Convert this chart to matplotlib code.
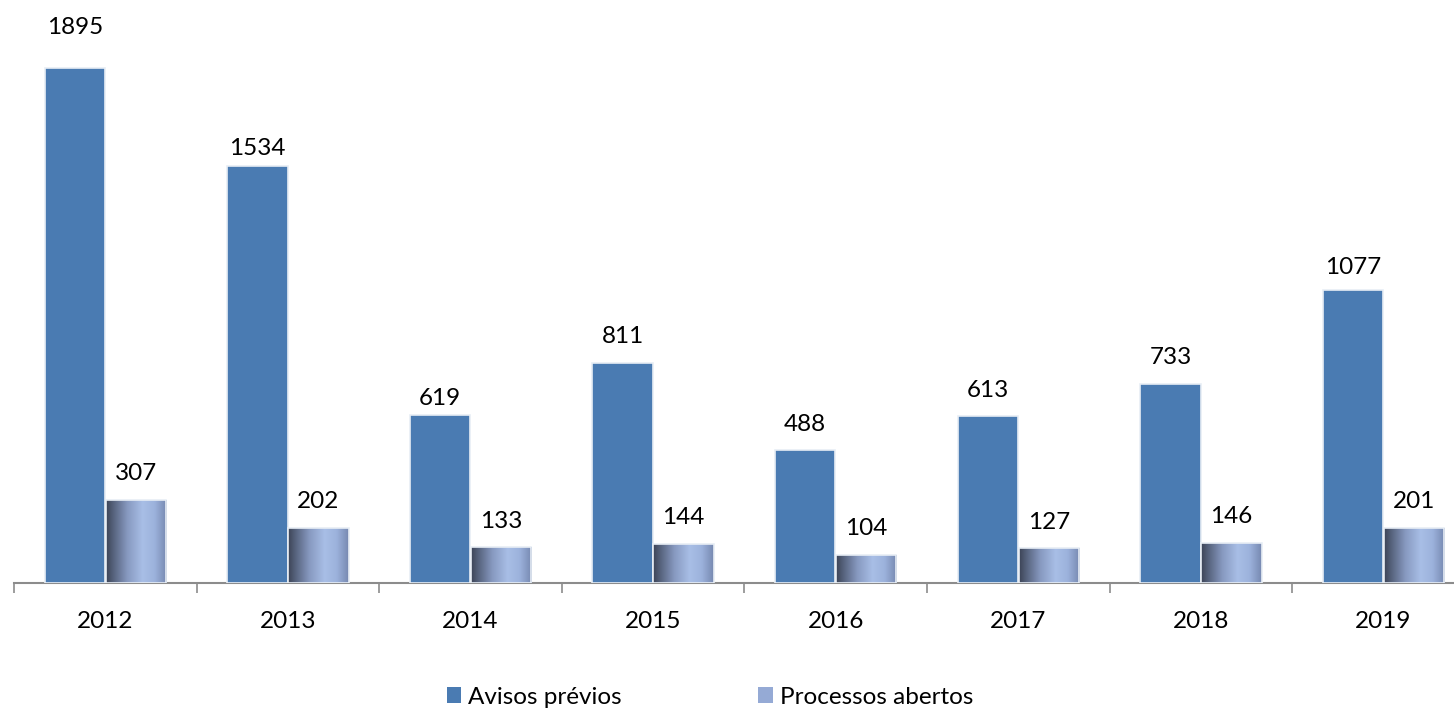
import matplotlib
matplotlib.use("Agg")
import matplotlib.pyplot as plt
import numpy as np
from matplotlib.colors import LinearSegmentedColormap
from matplotlib.patches import Patch

plt.rcParams['font.family'] = ['Lato', 'DejaVu Sans']

years = ["2012", "2013", "2014", "2015", "2016", "2017", "2018", "2019"]
avisos = [1895, 1534, 619, 811, 488, 613, 733, 1077]
processos = [307, 202, 133, 144, 104, 127, 146, 201]

# label vertical offsets in pixels above bar tops (style only)
avisos_off = [41, 18, 16, 26, 26, 26, 26, 23]
proc_off = [26, 27, 25, 26, 26, 26, 27, 27]

W, H = 1454, 711
fig = plt.figure(figsize=(W / 100, H / 100), dpi=100)
ax = fig.add_axes([14 / W, (711 - 583) / H, (1454 - 14) / W, 583 / H])

x = np.arange(len(years))
bw = 0.33
off = 0.167
c1 = "#4A7BB2"
ax.bar(x - off, avisos, width=bw, color=c1, edgecolor="#E8EEF5", linewidth=1.2, zorder=3)

cmap = LinearSegmentedColormap.from_list("g", [
    (0.0, "#3C4456"), (0.12, "#56627C"), (0.35, "#8799C0"),
    (0.6, "#A8BEE6"), (0.8, "#9CB2DC"), (1.0, "#7688B0")])
grad = np.linspace(0, 1, 256).reshape(1, -1)
bars2 = ax.bar(x + off, processos, width=bw, color="none", edgecolor="#E8EEF5",
               linewidth=1.2, zorder=4)
for b in bars2:
    x0, y0 = b.get_x(), b.get_y()
    w, h = b.get_width(), b.get_height()
    im = ax.imshow(grad, extent=[x0, x0 + w, y0, y0 + h], aspect='auto',
                   cmap=cmap, zorder=3, interpolation='bicubic')
    im.set_clip_path(b)

fs = 17.5
for i in range(len(years)):
    ax.annotate(str(avisos[i]), (x[i] - off, avisos[i]), xytext=(0, avisos_off[i] * 0.72),
                textcoords='offset points', ha='center', va='center', fontsize=fs)
    ax.annotate(str(processos[i]), (x[i] + off, processos[i]), xytext=(0, proc_off[i] * 0.72),
                textcoords='offset points', ha='center', va='center', fontsize=fs)

for s in ["top", "right", "left"]:
    ax.spines[s].set_visible(False)
ax.spines["bottom"].set_color("#8C8C8C")
ax.spines["bottom"].set_linewidth(1.5)
ax.set_yticks([])
ax.set_xticks(np.arange(-0.5, len(years) - 0.5, 1.0))
ax.set_xticklabels([])
ax.tick_params(axis='x', length=7, width=1.2, color="#8C8C8C", direction='out')

scale = 1895 / 515.0
ax.set_ylim(0, 583 * scale)
ax.set_xlim(-0.5, -0.5 + (1454 - 14) / 182.6)

for i, y in enumerate(years):
    ax.annotate(y, (x[i], 0), xytext=(0, -38 * 0.72), textcoords='offset points',
                ha='center', va='center', fontsize=fs)

handles = [Patch(facecolor=c1, edgecolor='none'), Patch(facecolor="#95AAD5", edgecolor='none')]
fig.legend(handles, ["Avisos prévios", "Processos abertos"], loc='center',
           bbox_to_anchor=(710 / W, 1 - 697 / H), ncol=2, frameon=False,
           fontsize=fs, handlelength=0.6, handleheight=0.6, handletextpad=0.3,
           columnspacing=5.6)

fig.savefig("out.png", dpi=100)
